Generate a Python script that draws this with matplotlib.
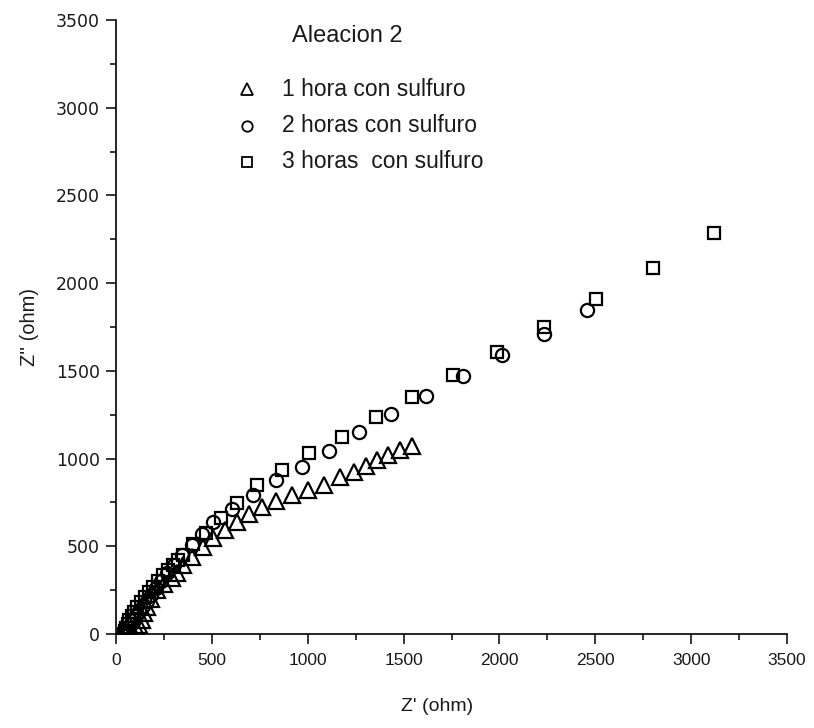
import matplotlib
matplotlib.use("Agg")
import matplotlib.pyplot as plt
from matplotlib.ticker import MultipleLocator

# Nyquist data: real part Z' and imaginary part Z'' (ohm)
x_1h = [75, 90, 110, 120, 135, 148, 161, 185, 214, 250, 290, 318, 350, 396, 454, 506,
        569, 631, 694, 762, 835, 918, 1002, 1085, 1168, 1242, 1304, 1362, 1419, 1481, 1544]
y_1h = [0, 8, 23, 50, 80, 117, 154, 200, 251, 285, 320, 348, 393, 439, 496, 547,
        593, 639, 684, 724, 760, 790, 818, 852, 893, 924, 958, 992, 1021, 1049, 1070]

x_2h = [55, 62, 70, 80, 92, 106, 122, 140, 160, 183, 208, 235, 265, 300, 345, 395,
        450, 506, 605, 714, 835, 970, 1111, 1268, 1435, 1615, 1811, 2013, 2230, 2457]
y_2h = [0, 16, 35, 55, 78, 103, 130, 160, 190, 225, 262, 300, 345, 392, 450, 510,
        570, 639, 713, 792, 878, 952, 1043, 1152, 1254, 1357, 1471, 1591, 1710, 1847]

x_3h = [40, 45, 52, 60, 70, 82, 96, 112, 130, 150, 172, 193, 220, 245, 270, 297, 325,
        350, 402, 469, 548, 631, 735, 866, 1007, 1178, 1356, 1543, 1760, 1987, 2233,
        2504, 2801, 3120]
y_3h = [0, 15, 35, 55, 78, 100, 125, 152, 180, 210, 240, 268, 300, 336, 365, 393, 420,
        450, 513, 576, 661, 747, 850, 935, 1032, 1123, 1237, 1351, 1477, 1608, 1750,
        1910, 2087, 2285]

title_text = "Aleacion 2"
series_labels = ["1 hora con sulfuro", "2 horas con sulfuro", "3 horas  con sulfuro"]

plt.rcParams["font.family"] = ["Liberation Sans", "DejaVu Sans"]

fig = plt.figure(figsize=(8.14, 7.28), dpi=100)
ax = fig.add_axes([116 / 814, 94 / 728, 671 / 814, 614 / 728])

mk = dict(linestyle="none", markerfacecolor="none", markeredgecolor="black",
          markeredgewidth=1.6)
ax.plot(x_1h, y_1h, marker="^", markersize=11, **mk)
ax.plot(x_2h, y_2h, marker="o", markersize=9.5, **mk)
ax.plot(x_3h, y_3h, marker="s", markersize=8.5, **mk)

ax.set_xlim(0, 3500)
ax.set_ylim(0, 3500)
ax.xaxis.set_major_locator(MultipleLocator(500))
ax.xaxis.set_minor_locator(MultipleLocator(250))
ax.yaxis.set_major_locator(MultipleLocator(500))
ax.yaxis.set_minor_locator(MultipleLocator(250))

for side in ("top", "right"):
    ax.spines[side].set_visible(False)
for side in ("left", "bottom"):
    ax.spines[side].set_linewidth(1.2)

ax.tick_params(which="major", direction="out", length=7.5, width=1.1,
               labelcolor="#1a1a1a")
ax.tick_params(which="minor", direction="out", length=4.5, width=1.1)
ax.tick_params(axis="x", which="major", pad=6, labelsize=12.5,
               labelfontfamily="Liberation Sans")
ax.tick_params(axis="y", which="major", pad=4, labelsize=12.5,
               labelfontfamily="DejaVu Sans")

ax.set_xlabel("Z' (ohm)", fontsize=14, color="#1a1a1a")
ax.xaxis.set_label_coords(0.478, -0.105)
ax.set_ylabel("Z'' (ohm)", fontsize=14.5, color="#1a1a1a")
ax.yaxis.set_label_coords(-0.115, 0.50)

# Legend block drawn in axes coordinates
def ax_frac(px, py):
    return (px - 116) / 671, (634 - py) / 614

tx, ty = ax_frac(292, 36)
ax.text(tx, ty, title_text, transform=ax.transAxes, fontsize=17, va="center",
        ha="left", color="#1a1a1a")

rows_y = [89, 126, 162]
markers = [("^", 9), ("o", 7.5), ("s", 6.5)]
for (m, ms), py, label in zip(markers, rows_y, series_labels):
    mx, my = ax_frac(247, py)
    ax.plot([mx], [my], transform=ax.transAxes, marker=m, markersize=ms,
            linestyle="none", markerfacecolor="none", markeredgecolor="black",
            markeredgewidth=1.3, clip_on=False)
    lx, ly = ax_frac(282, py)
    ax.text(lx, ly, label, transform=ax.transAxes, fontsize=16.5, va="center",
            ha="left", color="#1a1a1a")

fig.savefig("out.png", dpi=100)
